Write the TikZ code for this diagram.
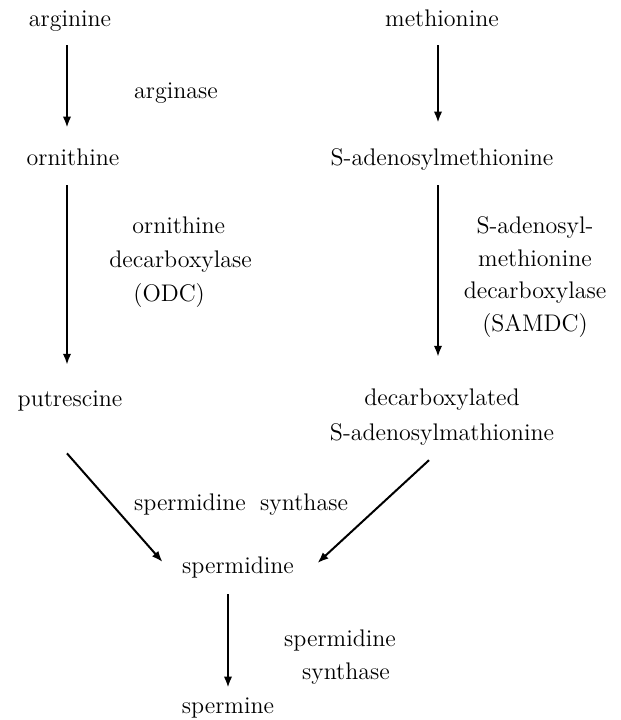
\documentclass[tikz,border=0pt]{standalone}
\usetikzlibrary{arrows.meta}
\begin{document}
\begin{tikzpicture}[x=0.5pt,y=-0.5pt,
  txt/.style={inner sep=0pt, font=\fontsize{12}{14}\selectfont},
  one/.style={txt, text height=8.4pt, text depth=2.4pt},
  arr/.style={line width=1pt, -{Latex[length=5.5pt,width=4.2pt]}}]
\useasboundingbox (0,0) rectangle (621,720);
% nodes
\node[one] (arg) at (70,20) {arginine};
\node[one] (met) at (442,20) {methionine};
\node[one] (ase) at (176,92) {arginase};
\node[one] (orn) at (73,159) {ornithine};
\node[one] (sam) at (442,159) {S-adenosylmethionine};
\node[txt, align=left, anchor=north west, font=\fontsize{12}{17}\selectfont] (odc) at (109,216)
  {\hspace*{11.5pt}ornithine\\decarboxylase\\\hspace*{12pt}(ODC)};
\node[txt, align=center, font=\fontsize{12}{16.2}\selectfont] (samdc) at (535,277)
  {S-adenosyl-\\methionine\\decarboxylase\\(SAMDC)};
\node[one] (put) at (70,400) {putrescine};
\node[txt, align=center, font=\fontsize{12}{17.5}\selectfont] (dsam) at (442,417.5)
  {decarboxylated\\S-adenosylmathionine};
\node[one] (sps) at (241,504) {spermidine\hspace{0.6em}synthase};
\node[one] (spd) at (238,567) {spermidine};
\node[txt, align=center, font=\fontsize{12}{16.5}\selectfont] (sps2) at (340,657)
  {spermidine\\\hspace*{6pt}synthase};
\node[one] (spm) at (228,707) {spermine};
% arrows
\draw[arr, shorten <=7.1pt, shorten >=10.1pt] ([xshift=-1.5pt]arg.south) -- ([xshift=-3pt]orn.north);
\draw[arr, shorten <=7.1pt, shorten >=12.6pt] ([xshift=-2pt]met.south) -- ([xshift=-2pt]sam.north);
\draw[arr, shorten <=7.6pt, shorten >=12pt] ([xshift=-3pt]orn.south) -- ([xshift=-1.5pt]put.north);
\draw[arr, shorten <=7.6pt, shorten >=16pt] ([xshift=-2pt]sam.south) -- ([xshift=-2pt]dsam.north);
\draw[arr] ([xshift=-1.5pt,yshift=-21.1pt]put.south) -- ([xshift=-9.6pt,yshift=2.5pt]spd.west);
\draw[arr] ([xshift=-6.5pt,yshift=-7pt]dsam.south) -- ([xshift=11.6pt,yshift=2pt]spd.east);
\draw[arr, shorten <=8pt, shorten >=4.1pt] ([xshift=-5pt]spd.south) -- (spm.north);
\end{tikzpicture}
\end{document}
